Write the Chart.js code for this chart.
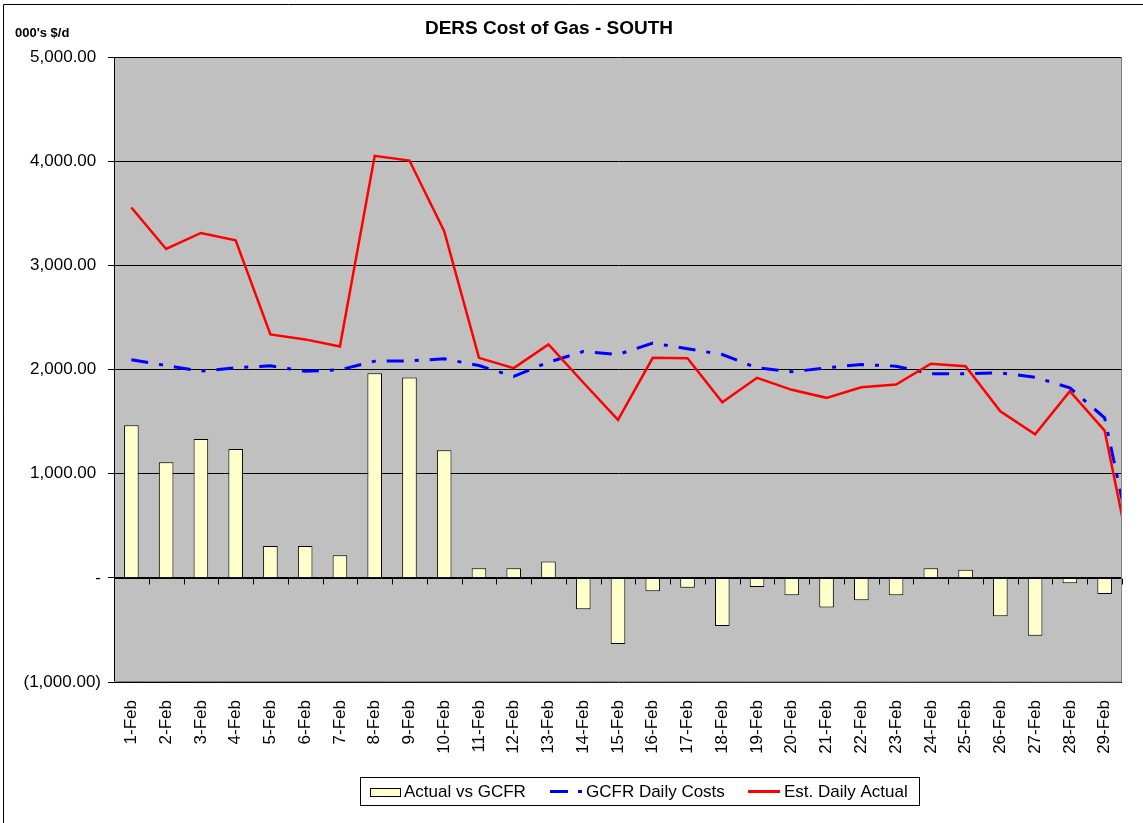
<!DOCTYPE html>
<html>
<head>
<meta charset="utf-8">
<script src="https://cdn.jsdelivr.net/npm/chart.js@4.4.1/dist/chart.umd.min.js"></script>
<style>
  body { margin: 0; background: #fff; }
  canvas { display: block; }
</style>
</head>
<body>
<canvas id="ctx" width="1143" height="823"></canvas>
<script>
// categories (the 30th point sits just past the right edge, lines run off to it)
const days = ['1-Feb','2-Feb','3-Feb','4-Feb','5-Feb','6-Feb','7-Feb','8-Feb','9-Feb','10-Feb',
  '11-Feb','12-Feb','13-Feb','14-Feb','15-Feb','16-Feb','17-Feb','18-Feb','19-Feb','20-Feb',
  '21-Feb','22-Feb','23-Feb','24-Feb','25-Feb','26-Feb','27-Feb','28-Feb','29-Feb'];

// 000's $/d
const actualVsGcfr = [1464, 1109, 1334, 1237, 305, 305, 218, 1964, 1923, 1224,
  93, 93, 157, -301, -635, -128, -96, -462, -89, -166,
  -285, -214, -166, 93, 77, -368, -555, -51, -154];
const gcfrDaily = [2093, 2038, 1984, 2016, 2035, 1984, 1997, 2080, 2083, 2103,
  2038, 1933, 2070, 2173, 2144, 2253, 2199, 2144, 2016, 1978,
  2016, 2048, 2032, 1959, 1959, 1968, 1926, 1824, 1536, -20];
const estActual = [3555, 3157, 3311, 3240, 2337, 2289, 2221, 4051, 4006, 3327,
  2112, 2013, 2240, 1875, 1516, 2112, 2109, 1686, 1920, 1805,
  1728, 1830, 1856, 2055, 2032, 1599, 1378, 1791, 1413, -223];

const yTicks = [-1000, 0, 1000, 2000, 3000, 4000, 5000];

const FONT = "'Liberation Sans', Arial, sans-serif";
Chart.defaults.font.family = FONT;
Chart.defaults.color = '#000';

const fmt = v => v.toLocaleString('en-US', {minimumFractionDigits: 2, maximumFractionDigits: 2});
const toXY = arr => arr.map((v, i) => ({x: i, y: v}));

const excelLook = {
  id: 'excelLook',
  beforeDraw(chart) {
    const c = chart.ctx, a = chart.chartArea;
    c.save();
    c.fillStyle = '#fff';
    c.fillRect(0, 0, chart.width, chart.height);
    c.fillStyle = '#C0C0C0';
    c.fillRect(a.left, a.top, a.right - a.left, a.bottom - a.top);
    // outer frame
    c.strokeStyle = '#000';
    c.lineWidth = 1;
    c.beginPath();
    c.moveTo(3.5, chart.height);
    c.lineTo(3.5, 4.5);
    c.lineTo(chart.width, 4.5);
    c.stroke();
    // title and unit
    c.fillStyle = '#000';
    c.textBaseline = 'middle';
    c.textAlign = 'center';
    c.font = 'bold 19px ' + FONT;
    c.fillText('DERS Cost of Gas - SOUTH', 549, 29);
    c.textAlign = 'left';
    c.font = 'bold 13px ' + FONT;
    c.fillText("000's $/d", 15, 33);
    c.restore();
  },
  afterDatasetsDraw(chart) {
    const c = chart.ctx, a = chart.chartArea;
    const x = chart.scales.x, y = chart.scales.y;
    const y0 = Math.round(y.getPixelForValue(0)) + 0.5;
    c.save();
    c.strokeStyle = '#000';
    c.lineWidth = 1;
    c.beginPath();
    c.moveTo(a.left, y0);
    c.lineTo(a.right, y0);
    for (let i = 1; i <= days.length; i++) {
      const px = Math.round(x.getPixelForValue(i - 0.5)) + 0.5;
      c.moveTo(px, y0);
      c.lineTo(px, y0 + 6);
    }
    c.stroke();
    c.strokeStyle = '#808080';
    c.beginPath();
    c.moveTo(Math.round(a.right) - 0.5, a.top);
    c.lineTo(Math.round(a.right) - 0.5, a.bottom);
    c.lineTo(a.left, Math.round(a.bottom) - 0.5);
    c.stroke();
    c.restore();
  },
  afterDraw(chart) {
    const c = chart.ctx;
    c.save();
    c.strokeStyle = '#000';
    c.lineWidth = 1;
    c.strokeRect(360.5, 777.5, 559, 28);
    c.font = '17px ' + FONT;
    c.textBaseline = 'middle';
    c.fillStyle = '#000';
    const ly = 792;
    // bar swatch
    c.fillStyle = '#FFFFCC';
    c.fillRect(370.5, 788.5, 30, 8);
    c.strokeRect(370.5, 788.5, 30, 8);
    c.fillStyle = '#000';
    c.fillText('Actual vs GCFR', 404, ly);
    // dash-dot swatch
    c.strokeStyle = '#0000FF';
    c.lineWidth = 3;
    c.beginPath();
    c.moveTo(550, ly - 0.5); c.lineTo(568, ly - 0.5);
    c.moveTo(578, ly - 0.5); c.lineTo(582, ly - 0.5);
    c.stroke();
    c.fillText('GCFR Daily Costs', 586, ly);
    // solid swatch
    c.strokeStyle = '#FF0000';
    c.beginPath();
    c.moveTo(748, ly - 0.5); c.lineTo(780, ly - 0.5);
    c.stroke();
    c.fillText('Est. Daily Actual', 784, ly);
    c.restore();
  }
};

new Chart(document.getElementById('ctx'), {
  data: {
    datasets: [
      {
        type: 'line',
        label: 'Est. Daily Actual',
        data: toXY(estActual),
        borderColor: '#FF0000',
        borderWidth: 2.5,
        pointRadius: 0,
        tension: 0,
        order: 1
      },
      {
        type: 'line',
        label: 'GCFR Daily Costs',
        data: toXY(gcfrDaily),
        borderColor: '#0000FF',
        borderWidth: 3,
        borderDash: [17, 11, 4, 11],
        pointRadius: 0,
        tension: 0,
        order: 2
      },
      {
        type: 'bar',
        label: 'Actual vs GCFR',
        data: toXY(actualVsGcfr),
        backgroundColor: '#FFFFCC',
        borderColor: '#000',
        borderWidth: 1,
        barPercentage: 0.42,
        categoryPercentage: 1,
        order: 3
      }
    ]
  },
  options: {
    responsive: false,
    animation: false,
    layout: {padding: {top: 57, right: 21, left: 0, bottom: 0}},
    plugins: {
      legend: {display: false},
      title: {display: false},
      tooltip: {enabled: false}
    },
    scales: {
      x: {
        type: 'linear',
        min: -0.5,
        max: days.length - 0.5,
        offset: false,
        grid: {display: false},
        border: {display: false},
        afterBuildTicks: s => { s.ticks = days.map((d, i) => ({value: i})); },
        afterFit: s => { s.height = 141; },
        ticks: {
          autoSkip: false,
          minRotation: 90,
          maxRotation: 90,
          padding: 10,
          font: {size: 17},
          callback: v => days[v] || ''
        }
      },
      y: {
        min: -1000,
        max: 5000,
        afterBuildTicks: s => { s.ticks = yTicks.map(v => ({value: v})); },
        afterFit: s => { s.width = 114; },
        grid: {color: '#000', lineWidth: 1, tickLength: 6},
        border: {color: '#000', width: 1},
        ticks: {
          padding: 7,
          font: {size: 17},
          callback: v => v === 0 ? '-' : v < 0 ? '(' + fmt(-v) + ')' : fmt(v) + ' '
        }
      }
    }
  },
  plugins: [excelLook]
});
</script>
</body>
</html>
